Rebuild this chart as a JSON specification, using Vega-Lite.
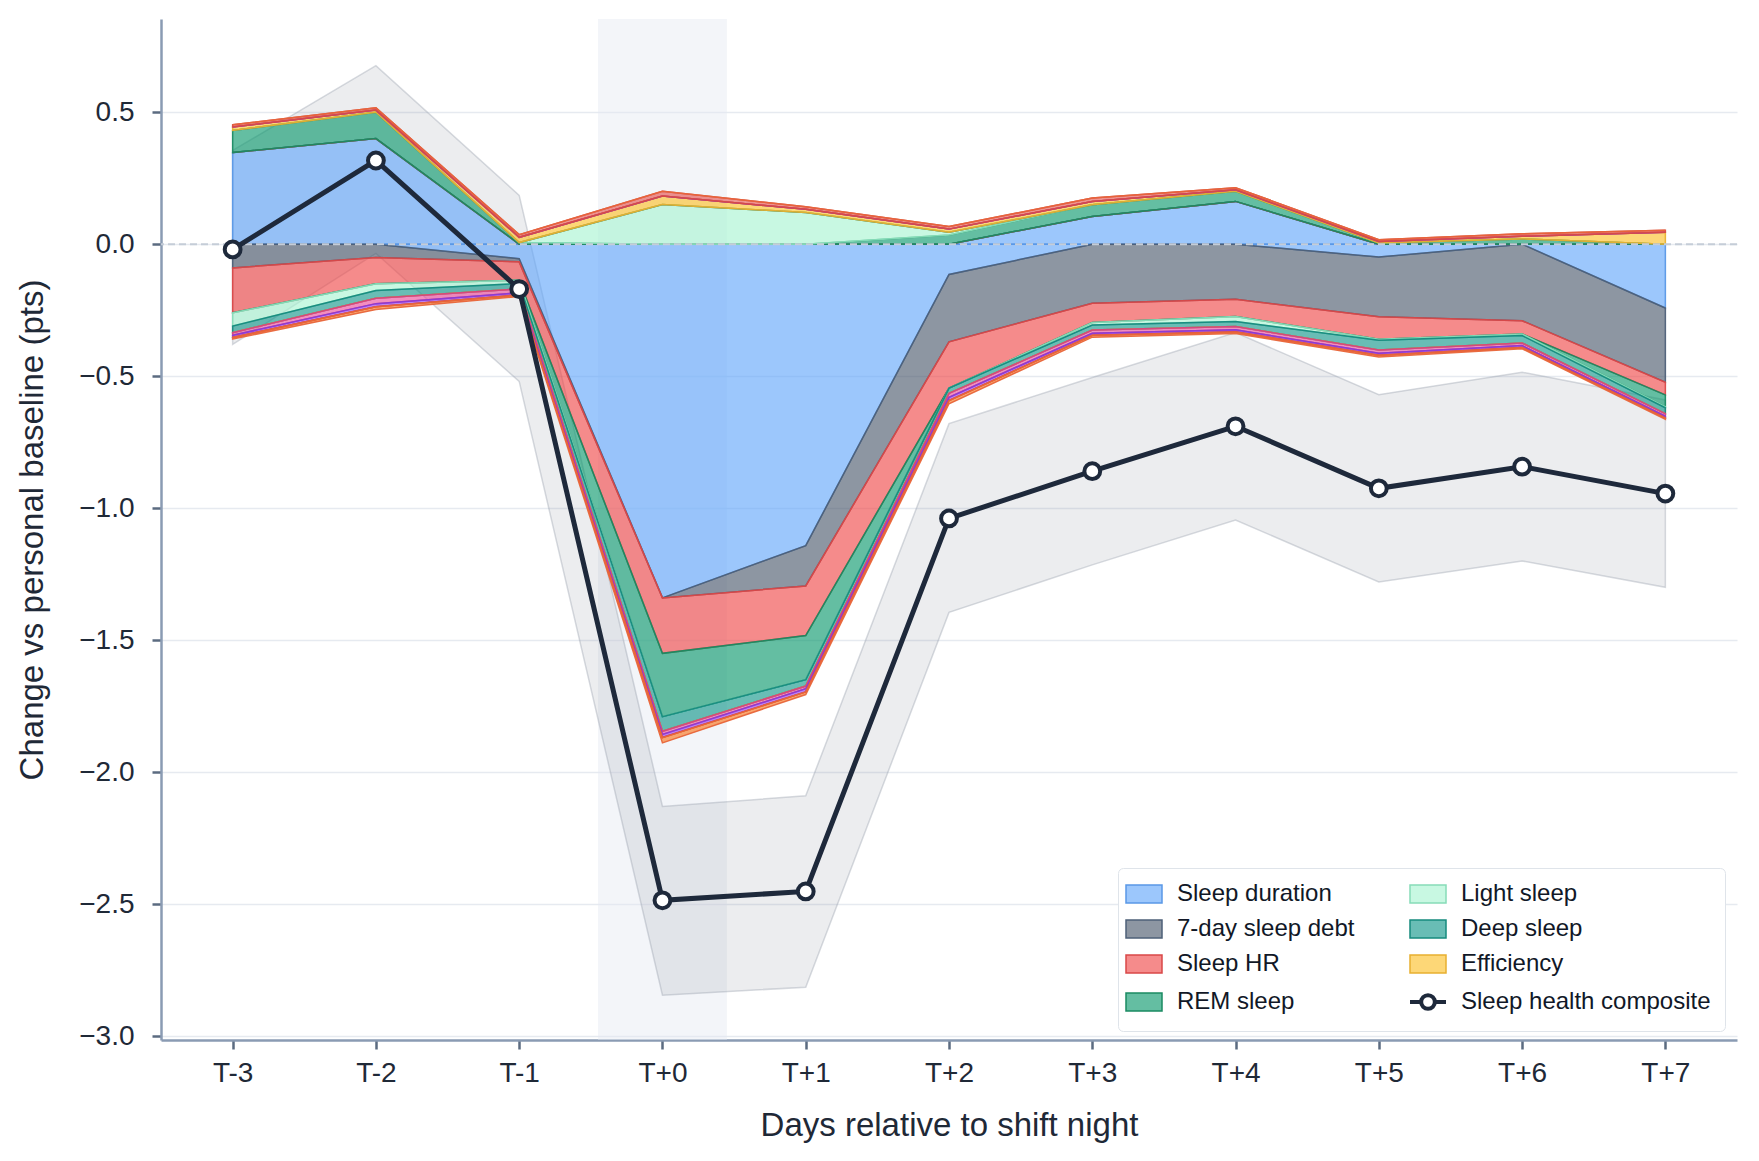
{
  "$schema": "https://vega.github.io/schema/vega-lite/v6.json",
  "width": 1576,
  "height": 1021,
  "autosize": {"type": "none"},
  "padding": {"left": 161, "top": 19, "right": 22, "bottom": 121},
  "config": {
    "font": "Liberation Sans",
    "view": {"stroke": null},
    "axis": {
      "labelFontSize": 28,
      "labelColor": "#1f2937",
      "titleFontSize": 33,
      "titleFontWeight": "normal",
      "titleColor": "#1f2937",
      "domainColor": "#8a9bb3",
      "domainWidth": 2.5,
      "tickColor": "#5b6b80",
      "tickWidth": 2.5,
      "tickSize": 9,
      "gridColor": "#e6eaf0",
      "gridWidth": 1.5
    }
  },
  "datasets": {
    "parts": [
      {"d": -3, "c": "Sleep duration", "o": 1, "p": 0.347, "n": -0.0001},
      {"d": -2, "c": "Sleep duration", "o": 1, "p": 0.4, "n": -0.0001},
      {"d": -1, "c": "Sleep duration", "o": 1, "p": 0, "n": -0.055},
      {"d": 0, "c": "Sleep duration", "o": 1, "p": 0, "n": -1.34},
      {"d": 1, "c": "Sleep duration", "o": 1, "p": 0, "n": -1.142},
      {"d": 2, "c": "Sleep duration", "o": 1, "p": 0, "n": -0.115},
      {"d": 3, "c": "Sleep duration", "o": 1, "p": 0.105, "n": -0.0001},
      {"d": 4, "c": "Sleep duration", "o": 1, "p": 0.162, "n": -0.0001},
      {"d": 5, "c": "Sleep duration", "o": 1, "p": 0, "n": -0.049},
      {"d": 6, "c": "Sleep duration", "o": 1, "p": 0, "n": -0.0001},
      {"d": 7, "c": "Sleep duration", "o": 1, "p": 0, "n": -0.242},

      {"d": -3, "c": "7-day sleep debt", "o": 2, "p": 0, "n": -0.09},
      {"d": -2, "c": "7-day sleep debt", "o": 2, "p": 0, "n": -0.05},
      {"d": -1, "c": "7-day sleep debt", "o": 2, "p": 0, "n": -0.012},
      {"d": 0, "c": "7-day sleep debt", "o": 2, "p": 0, "n": -0.0001},
      {"d": 1, "c": "7-day sleep debt", "o": 2, "p": 0, "n": -0.153},
      {"d": 2, "c": "7-day sleep debt", "o": 2, "p": 0, "n": -0.255},
      {"d": 3, "c": "7-day sleep debt", "o": 2, "p": 0, "n": -0.224},
      {"d": 4, "c": "7-day sleep debt", "o": 2, "p": 0, "n": -0.209},
      {"d": 5, "c": "7-day sleep debt", "o": 2, "p": 0, "n": -0.226},
      {"d": 6, "c": "7-day sleep debt", "o": 2, "p": 0, "n": -0.29},
      {"d": 7, "c": "7-day sleep debt", "o": 2, "p": 0, "n": -0.281},

      {"d": -3, "c": "Sleep HR", "o": 3, "p": 0, "n": -0.17},
      {"d": -2, "c": "Sleep HR", "o": 3, "p": 0, "n": -0.1},
      {"d": -1, "c": "Sleep HR", "o": 3, "p": 0, "n": -0.07},
      {"d": 0, "c": "Sleep HR", "o": 3, "p": 0, "n": -0.21},
      {"d": 1, "c": "Sleep HR", "o": 3, "p": 0, "n": -0.188},
      {"d": 2, "c": "Sleep HR", "o": 3, "p": 0, "n": -0.175},
      {"d": 3, "c": "Sleep HR", "o": 3, "p": 0, "n": -0.073},
      {"d": 4, "c": "Sleep HR", "o": 3, "p": 0, "n": -0.065},
      {"d": 5, "c": "Sleep HR", "o": 3, "p": 0, "n": -0.085},
      {"d": 6, "c": "Sleep HR", "o": 3, "p": 0, "n": -0.05},
      {"d": 7, "c": "Sleep HR", "o": 3, "p": 0, "n": -0.048},

      {"d": -3, "c": "REM sleep", "o": 4, "p": 0.084, "n": -0.0001},
      {"d": -2, "c": "REM sleep", "o": 4, "p": 0.1, "n": -0.0001},
      {"d": -1, "c": "REM sleep", "o": 4, "p": 0.006, "n": -0.0001},
      {"d": 0, "c": "REM sleep", "o": 4, "p": 0, "n": -0.24},
      {"d": 1, "c": "REM sleep", "o": 4, "p": 0, "n": -0.167},
      {"d": 2, "c": "REM sleep", "o": 4, "p": 0.035, "n": -0.0001},
      {"d": 3, "c": "REM sleep", "o": 4, "p": 0.044, "n": -0.0001},
      {"d": 4, "c": "REM sleep", "o": 4, "p": 0.038, "n": -0.0001},
      {"d": 5, "c": "REM sleep", "o": 4, "p": 0.004, "n": -0.0001},
      {"d": 6, "c": "REM sleep", "o": 4, "p": 0.02, "n": -0.0001},
      {"d": 7, "c": "REM sleep", "o": 4, "p": 0, "n": -0.045},

      {"d": -3, "c": "Light sleep", "o": 5, "p": 0, "n": -0.05},
      {"d": -2, "c": "Light sleep", "o": 5, "p": 0, "n": -0.025},
      {"d": -1, "c": "Light sleep", "o": 5, "p": 0, "n": -0.012},
      {"d": 0, "c": "Light sleep", "o": 5, "p": 0.15, "n": -0.0001},
      {"d": 1, "c": "Light sleep", "o": 5, "p": 0.12, "n": -0.0001},
      {"d": 2, "c": "Light sleep", "o": 5, "p": 0.01, "n": -0.0001},
      {"d": 3, "c": "Light sleep", "o": 5, "p": 0, "n": -0.009},
      {"d": 4, "c": "Light sleep", "o": 5, "p": 0, "n": -0.019},
      {"d": 5, "c": "Light sleep", "o": 5, "p": 0, "n": -0.004},
      {"d": 6, "c": "Light sleep", "o": 5, "p": 0, "n": -0.006},
      {"d": 7, "c": "Light sleep", "o": 5, "p": 0, "n": -0.004},

      {"d": -3, "c": "Deep sleep", "o": 6, "p": 0, "n": -0.025},
      {"d": -2, "c": "Deep sleep", "o": 6, "p": 0, "n": -0.03},
      {"d": -1, "c": "Deep sleep", "o": 6, "p": 0, "n": -0.02},
      {"d": 0, "c": "Deep sleep", "o": 6, "p": 0, "n": -0.055},
      {"d": 1, "c": "Deep sleep", "o": 6, "p": 0, "n": -0.024},
      {"d": 2, "c": "Deep sleep", "o": 6, "p": 0, "n": -0.02},
      {"d": 3, "c": "Deep sleep", "o": 6, "p": 0, "n": -0.019},
      {"d": 4, "c": "Deep sleep", "o": 6, "p": 0, "n": -0.019},
      {"d": 5, "c": "Deep sleep", "o": 6, "p": 0, "n": -0.037},
      {"d": 6, "c": "Deep sleep", "o": 6, "p": 0, "n": -0.028},
      {"d": 7, "c": "Deep sleep", "o": 6, "p": 0, "n": -0.022},

      {"d": -3, "c": "Efficiency", "o": 7, "p": 0.013, "n": -0.0001},
      {"d": -2, "c": "Efficiency", "o": 7, "p": 0.008, "n": -0.0001},
      {"d": -1, "c": "Efficiency", "o": 7, "p": 0.02, "n": -0.0001},
      {"d": 0, "c": "Efficiency", "o": 7, "p": 0.032, "n": -0.0001},
      {"d": 1, "c": "Efficiency", "o": 7, "p": 0.012, "n": -0.0001},
      {"d": 2, "c": "Efficiency", "o": 7, "p": 0.012, "n": -0.0001},
      {"d": 3, "c": "Efficiency", "o": 7, "p": 0.013, "n": -0.0001},
      {"d": 4, "c": "Efficiency", "o": 7, "p": 0.006, "n": -0.0001},
      {"d": 5, "c": "Efficiency", "o": 7, "p": 0.006, "n": -0.0001},
      {"d": 6, "c": "Efficiency", "o": 7, "p": 0.01, "n": -0.0001},
      {"d": 7, "c": "Efficiency", "o": 7, "p": 0.045, "n": -0.0001},

      {"d": -3, "c": "Respiratory rate", "o": 8, "p": 0, "n": -0.01},
      {"d": -2, "c": "Respiratory rate", "o": 8, "p": 0, "n": -0.02},
      {"d": -1, "c": "Respiratory rate", "o": 8, "p": 0, "n": -0.015},
      {"d": 0, "c": "Respiratory rate", "o": 8, "p": 0, "n": -0.012},
      {"d": 1, "c": "Respiratory rate", "o": 8, "p": 0, "n": -0.01},
      {"d": 2, "c": "Respiratory rate", "o": 8, "p": 0, "n": -0.015},
      {"d": 3, "c": "Respiratory rate", "o": 8, "p": 0, "n": -0.012},
      {"d": 4, "c": "Respiratory rate", "o": 8, "p": 0, "n": -0.012},
      {"d": 5, "c": "Respiratory rate", "o": 8, "p": 0, "n": -0.012},
      {"d": 6, "c": "Respiratory rate", "o": 8, "p": 0, "n": -0.01},
      {"d": 7, "c": "Respiratory rate", "o": 8, "p": 0, "n": -0.01},

      {"d": -3, "c": "HRV", "o": 9, "p": 0, "n": -0.008},
      {"d": -2, "c": "HRV", "o": 9, "p": 0, "n": -0.012},
      {"d": -1, "c": "HRV", "o": 9, "p": 0, "n": -0.008},
      {"d": 0, "c": "HRV", "o": 9, "p": 0, "n": -0.012},
      {"d": 1, "c": "HRV", "o": 9, "p": 0, "n": -0.012},
      {"d": 2, "c": "HRV", "o": 9, "p": 0, "n": -0.012},
      {"d": 3, "c": "HRV", "o": 9, "p": 0, "n": -0.008},
      {"d": 4, "c": "HRV", "o": 9, "p": 0, "n": -0.008},
      {"d": 5, "c": "HRV", "o": 9, "p": 0, "n": -0.008},
      {"d": 6, "c": "HRV", "o": 9, "p": 0, "n": -0.007},
      {"d": 7, "c": "HRV", "o": 9, "p": 0, "n": -0.006},

      {"d": -3, "c": "Sleep latency", "o": 10, "p": 0.008, "n": -0.0001},
      {"d": -2, "c": "Sleep latency", "o": 10, "p": 0.009, "n": -0.0001},
      {"d": -1, "c": "Sleep latency", "o": 10, "p": 0.01, "n": -0.0001},
      {"d": 0, "c": "Sleep latency", "o": 10, "p": 0.018, "n": -0.0001},
      {"d": 1, "c": "Sleep latency", "o": 10, "p": 0.01, "n": -0.0001},
      {"d": 2, "c": "Sleep latency", "o": 10, "p": 0.01, "n": -0.0001},
      {"d": 3, "c": "Sleep latency", "o": 10, "p": 0.013, "n": -0.0001},
      {"d": 4, "c": "Sleep latency", "o": 10, "p": 0.008, "n": -0.0001},
      {"d": 5, "c": "Sleep latency", "o": 10, "p": 0.007, "n": -0.0001},
      {"d": 6, "c": "Sleep latency", "o": 10, "p": 0.009, "n": -0.0001},
      {"d": 7, "c": "Sleep latency", "o": 10, "p": 0.008, "n": -0.0001},

      {"d": -3, "c": "Restlessness", "o": 11, "p": 0, "n": -0.006},
      {"d": -2, "c": "Restlessness", "o": 11, "p": 0, "n": -0.01},
      {"d": -1, "c": "Restlessness", "o": 11, "p": 0, "n": -0.006},
      {"d": 0, "c": "Restlessness", "o": 11, "p": 0, "n": -0.02},
      {"d": 1, "c": "Restlessness", "o": 11, "p": 0, "n": -0.01},
      {"d": 2, "c": "Restlessness", "o": 11, "p": 0, "n": -0.012},
      {"d": 3, "c": "Restlessness", "o": 11, "p": 0, "n": -0.007},
      {"d": 4, "c": "Restlessness", "o": 11, "p": 0, "n": -0.006},
      {"d": 5, "c": "Restlessness", "o": 11, "p": 0, "n": -0.006},
      {"d": 6, "c": "Restlessness", "o": 11, "p": 0, "n": -0.005},
      {"d": 7, "c": "Restlessness", "o": 11, "p": 0, "n": -0.005}
    ],
    "composite": [
      {"d": -3, "m": -0.02, "lo": -0.38, "hi": 0.355},
      {"d": -2, "m": 0.317, "lo": -0.035, "hi": 0.676},
      {"d": -1, "m": -0.17, "lo": -0.52, "hi": 0.185},
      {"d": 0, "m": -2.486, "lo": -2.845, "hi": -2.13},
      {"d": 1, "m": -2.452, "lo": -2.815, "hi": -2.09},
      {"d": 2, "m": -1.039, "lo": -1.395, "hi": -0.68},
      {"d": 3, "m": -0.86, "lo": -1.215, "hi": -0.505},
      {"d": 4, "m": -0.69, "lo": -1.045, "hi": -0.335},
      {"d": 5, "m": -0.925, "lo": -1.28, "hi": -0.57},
      {"d": 6, "m": -0.843, "lo": -1.2, "hi": -0.485},
      {"d": 7, "m": -0.945, "lo": -1.3, "hi": -0.59}
    ]
  },
  "layer": [
    {
      "data": {"values": [{"a": -0.45, "b": 0.45}]},
      "mark": {"type": "rect", "fill": "#e4e8f1", "fillOpacity": 0.45},
      "encoding": {
        "x": {"field": "a", "type": "quantitative", "scale": {"domain": [-3.5, 7.5], "nice": false, "zero": false}},
        "x2": {"field": "b"}
      }
    },
    {
      "data": {"name": "composite"},
      "mark": {"type": "area", "fill": "#6b7280", "fillOpacity": 0.13, "stroke": "#9ca3af", "strokeOpacity": 0.4, "strokeWidth": 1.5},
      "encoding": {
        "x": {"field": "d", "type": "quantitative", "scale": {"domain": [-3.5, 7.5], "nice": false, "zero": false}},
        "y": {"field": "lo", "type": "quantitative", "scale": {"domain": [-3.015, 0.853], "nice": false, "zero": false}},
        "y2": {"field": "hi"}
      }
    },
    {
      "data": {"name": "parts"},
      "transform": [{"fold": ["p", "n"], "as": ["part", "v"]}],
      "mark": {"type": "area", "fillOpacity": 0.62, "strokeWidth": 1.5, "strokeOpacity": 0.95},
      "encoding": {
        "x": {
          "field": "d",
          "type": "quantitative",
          "scale": {"domain": [-3.5, 7.5], "nice": false, "zero": false},
          "axis": {
            "title": "Days relative to shift night",
            "values": [-3, -2, -1, 0, 1, 2, 3, 4, 5, 6, 7],
            "labelExpr": "'T' + (datum.value >= 0 ? '+' : '') + datum.value",
            "grid": false,
            "labelPadding": 10,
            "titlePadding": 22
          }
        },
        "y": {
          "field": "v",
          "type": "quantitative",
          "stack": "zero",
          "scale": {"domain": [-3.015, 0.853], "nice": false, "zero": false},
          "axis": {
            "title": "Change vs personal baseline (pts)",
            "values": [-3, -2.5, -2, -1.5, -1, -0.5, 0, 0.5],
            "format": ".1f",
            "grid": true,
            "labelPadding": 18,
            "titlePadding": 29
          }
        },
        "fill": {
          "field": "c",
          "type": "nominal",
          "scale": {
            "domain": ["Sleep duration", "7-day sleep debt", "Sleep HR", "REM sleep", "Light sleep", "Deep sleep", "Efficiency", "Respiratory rate", "HRV", "Sleep latency", "Restlessness", "Sleep health composite"],
            "range": ["#60a5fa", "#475569", "#ef4444", "#059669", "#a7f3d0", "#0d9488", "#fbbf24", "#ec4899", "#9333ea", "#e4504a", "#f97316", "#ffffff"]
          },
          "legend": {
            "orient": "none",
            "legendX": 957,
            "legendY": 849,
            "columns": 2,
            "title": null,
            "values": ["Sleep duration", "7-day sleep debt", "Sleep HR", "REM sleep", "Light sleep", "Deep sleep", "Efficiency", "Sleep health composite"],
            "labelFontSize": 24,
            "labelColor": "#111827",
            "labelLimit": 400,
            "labelOffset": 21,
            "symbolSize": 1296,
            "columnPadding": 47,
            "rowPadding": 11,
            "padding": 14,
            "fillColor": "#ffffff",
            "strokeColor": "#dfe4ea",
            "cornerRadius": 5,
            "encode": {
              "symbols": {
                "update": {
                  "shape": {"signal": "datum.value === 'Sleep health composite' ? 'M-1,0H-0.38M0.38,0H1M-0.38,0A0.38,0.38 0 1,1 0.38,0A0.38,0.38 0 1,1 -0.38,0Z' : 'M-1,-0.5H1V0.5H-1Z'"},
                  "fill": {"signal": "scale('fill', datum.value)"},
                  "fillOpacity": {"signal": "datum.value === 'Sleep health composite' ? 1 : 0.62"},
                  "stroke": {"signal": "scale('stroke', datum.value)"},
                  "strokeWidth": {"signal": "datum.value === 'Sleep health composite' ? 4 : 1.5"},
                  "opacity": {"value": 1}
                }
              }
            }
          }
        },
        "stroke": {
          "field": "c",
          "type": "nominal",
          "scale": {
            "domain": ["Sleep duration", "7-day sleep debt", "Sleep HR", "REM sleep", "Light sleep", "Deep sleep", "Efficiency", "Respiratory rate", "HRV", "Sleep latency", "Restlessness", "Sleep health composite"],
            "range": ["#5a98e6", "#4e6078", "#d94848", "#1a8a62", "#86dcb8", "#168a7e", "#e8b030", "#d4457f", "#8a3bd6", "#d74a44", "#e8653a", "#1e293b"]
          },
          "legend": null
        },
        "detail": {"field": "part"},
        "order": {"field": "o", "type": "quantitative"}
      }
    },
    {
      "data": {"values": [{"z": 0}]},
      "mark": {"type": "rule", "stroke": "#c5cdd8", "strokeWidth": 2, "strokeDash": [7, 4]},
      "encoding": {
        "y": {"field": "z", "type": "quantitative", "scale": {"domain": [-3.015, 0.853], "nice": false, "zero": false}}
      }
    },
    {
      "data": {"name": "composite"},
      "mark": {
        "type": "line",
        "color": "#1e293b",
        "strokeWidth": 5,
        "point": {"filled": true, "fill": "#ffffff", "stroke": "#1e293b", "strokeWidth": 4, "size": 250, "opacity": 1}
      },
      "encoding": {
        "x": {"field": "d", "type": "quantitative", "scale": {"domain": [-3.5, 7.5], "nice": false, "zero": false}},
        "y": {"field": "m", "type": "quantitative", "scale": {"domain": [-3.015, 0.853], "nice": false, "zero": false}}
      }
    }
  ]
}
